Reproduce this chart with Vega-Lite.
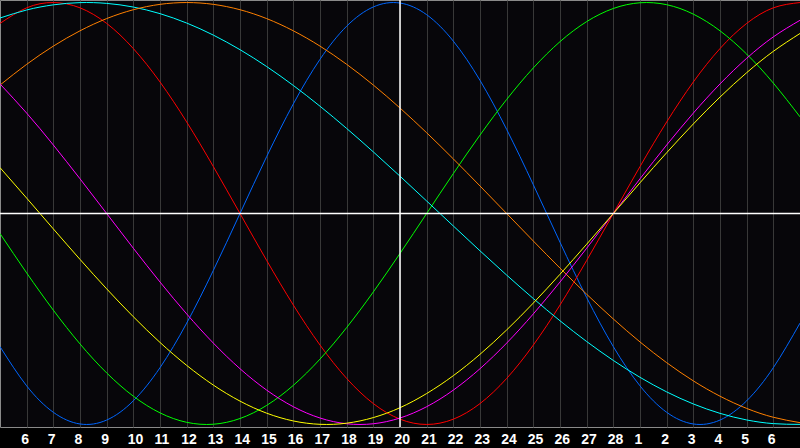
{
  "$schema": "https://vega.github.io/schema/vega-lite/v6.json",
  "width": 800,
  "height": 427,
  "autosize": {"type": "none"},
  "padding": {"left": 0, "top": 0, "right": 0, "bottom": 21},
  "background": "#000000",
  "config": {
    "view": {"fill": "#07060a", "stroke": "#8a8a8a", "strokeWidth": 1},
    "axis": {"labelOverlap": false, "labelSeparation": 0},
    "axisX": {"labelOverlap": false}
  },
  "datasets": {
    "bio": [
      {"u":0,"c":"Physical","v":-0.6311},{"u":1,"c":"Physical","v":-0.8170},{"u":2,"c":"Physical","v":-0.9423},{"u":3,"c":"Physical","v":-0.9977},{"u":4,"c":"Physical","v":-0.9791},{"u":5,"c":"Physical","v":-0.8879},{"u":6,"c":"Physical","v":-0.7308},{"u":7,"c":"Physical","v":-0.5196},{"u":8,"c":"Physical","v":-0.2698},{"u":9,"c":"Physical","v":0},{"u":10,"c":"Physical","v":0.2698},{"u":11,"c":"Physical","v":0.5196},{"u":12,"c":"Physical","v":0.7308},{"u":13,"c":"Physical","v":0.8879},{"u":14,"c":"Physical","v":0.9791},{"u":15,"c":"Physical","v":0.9977},{"u":16,"c":"Physical","v":0.9423},{"u":17,"c":"Physical","v":0.8170},{"u":18,"c":"Physical","v":0.6311},{"u":19,"c":"Physical","v":0.3984},{"u":20,"c":"Physical","v":0.1362},{"u":21,"c":"Physical","v":-0.1362},{"u":22,"c":"Physical","v":-0.3984},{"u":23,"c":"Physical","v":-0.6311},{"u":24,"c":"Physical","v":-0.8170},{"u":25,"c":"Physical","v":-0.9423},{"u":26,"c":"Physical","v":-0.9977},{"u":27,"c":"Physical","v":-0.9791},{"u":28,"c":"Physical","v":-0.8879},{"u":29,"c":"Physical","v":-0.7308},{"u":30,"c":"Physical","v":-0.5196},
      {"u":0,"c":"Emotional","v":0.9010},{"u":1,"c":"Emotional","v":0.9749},{"u":2,"c":"Emotional","v":1},{"u":3,"c":"Emotional","v":0.9749},{"u":4,"c":"Emotional","v":0.9010},{"u":5,"c":"Emotional","v":0.7818},{"u":6,"c":"Emotional","v":0.6235},{"u":7,"c":"Emotional","v":0.4339},{"u":8,"c":"Emotional","v":0.2225},{"u":9,"c":"Emotional","v":0},{"u":10,"c":"Emotional","v":-0.2225},{"u":11,"c":"Emotional","v":-0.4339},{"u":12,"c":"Emotional","v":-0.6235},{"u":13,"c":"Emotional","v":-0.7818},{"u":14,"c":"Emotional","v":-0.9010},{"u":15,"c":"Emotional","v":-0.9749},{"u":16,"c":"Emotional","v":-1},{"u":17,"c":"Emotional","v":-0.9749},{"u":18,"c":"Emotional","v":-0.9010},{"u":19,"c":"Emotional","v":-0.7818},{"u":20,"c":"Emotional","v":-0.6235},{"u":21,"c":"Emotional","v":-0.4339},{"u":22,"c":"Emotional","v":-0.2225},{"u":23,"c":"Emotional","v":0},{"u":24,"c":"Emotional","v":0.2225},{"u":25,"c":"Emotional","v":0.4339},{"u":26,"c":"Emotional","v":0.6235},{"u":27,"c":"Emotional","v":0.7818},{"u":28,"c":"Emotional","v":0.9010},{"u":29,"c":"Emotional","v":0.9749},{"u":30,"c":"Emotional","v":1},
      {"u":0,"c":"Intellectual","v":-0.0951},{"u":1,"c":"Intellectual","v":-0.2817},{"u":2,"c":"Intellectual","v":-0.4582},{"u":3,"c":"Intellectual","v":-0.6182},{"u":4,"c":"Intellectual","v":-0.7557},{"u":5,"c":"Intellectual","v":-0.8660},{"u":6,"c":"Intellectual","v":-0.9450},{"u":7,"c":"Intellectual","v":-0.9898},{"u":8,"c":"Intellectual","v":-0.9989},{"u":9,"c":"Intellectual","v":-0.9718},{"u":10,"c":"Intellectual","v":-0.9096},{"u":11,"c":"Intellectual","v":-0.8146},{"u":12,"c":"Intellectual","v":-0.6901},{"u":13,"c":"Intellectual","v":-0.5406},{"u":14,"c":"Intellectual","v":-0.3717},{"u":15,"c":"Intellectual","v":-0.1893},{"u":16,"c":"Intellectual","v":0},{"u":17,"c":"Intellectual","v":0.1893},{"u":18,"c":"Intellectual","v":0.3717},{"u":19,"c":"Intellectual","v":0.5406},{"u":20,"c":"Intellectual","v":0.6901},{"u":21,"c":"Intellectual","v":0.8146},{"u":22,"c":"Intellectual","v":0.9096},{"u":23,"c":"Intellectual","v":0.9718},{"u":24,"c":"Intellectual","v":0.9989},{"u":25,"c":"Intellectual","v":0.9898},{"u":26,"c":"Intellectual","v":0.9450},{"u":27,"c":"Intellectual","v":0.8660},{"u":28,"c":"Intellectual","v":0.7557},{"u":29,"c":"Intellectual","v":0.6182},{"u":30,"c":"Intellectual","v":0.4582},
      {"u":0,"c":"Spiritual","v":0.9267},{"u":1,"c":"Spiritual","v":0.9647},{"u":2,"c":"Spiritual","v":0.9890},{"u":3,"c":"Spiritual","v":0.9996},{"u":4,"c":"Spiritual","v":0.9960},{"u":5,"c":"Spiritual","v":0.9786},{"u":6,"c":"Spiritual","v":0.9473},{"u":7,"c":"Spiritual","v":0.9028},{"u":8,"c":"Spiritual","v":0.8456},{"u":9,"c":"Spiritual","v":0.7765},{"u":10,"c":"Spiritual","v":0.6966},{"u":11,"c":"Spiritual","v":0.6068},{"u":12,"c":"Spiritual","v":0.5085},{"u":13,"c":"Spiritual","v":0.4031},{"u":14,"c":"Spiritual","v":0.2920},{"u":15,"c":"Spiritual","v":0.1769},{"u":16,"c":"Spiritual","v":0.0592},{"u":17,"c":"Spiritual","v":-0.0592},{"u":18,"c":"Spiritual","v":-0.1769},{"u":19,"c":"Spiritual","v":-0.2920},{"u":20,"c":"Spiritual","v":-0.4031},{"u":21,"c":"Spiritual","v":-0.5085},{"u":22,"c":"Spiritual","v":-0.6068},{"u":23,"c":"Spiritual","v":-0.6966},{"u":24,"c":"Spiritual","v":-0.7765},{"u":25,"c":"Spiritual","v":-0.8456},{"u":26,"c":"Spiritual","v":-0.9028},{"u":27,"c":"Spiritual","v":-0.9473},{"u":28,"c":"Spiritual","v":-0.9786},{"u":29,"c":"Spiritual","v":-0.9960},{"u":30,"c":"Spiritual","v":-0.9996},
      {"u":0,"c":"Awareness","v":0.6088},{"u":1,"c":"Awareness","v":0.7071},{"u":2,"c":"Awareness","v":0.7934},{"u":3,"c":"Awareness","v":0.8660},{"u":4,"c":"Awareness","v":0.9239},{"u":5,"c":"Awareness","v":0.9659},{"u":6,"c":"Awareness","v":0.9914},{"u":7,"c":"Awareness","v":1},{"u":8,"c":"Awareness","v":0.9914},{"u":9,"c":"Awareness","v":0.9659},{"u":10,"c":"Awareness","v":0.9239},{"u":11,"c":"Awareness","v":0.8660},{"u":12,"c":"Awareness","v":0.7934},{"u":13,"c":"Awareness","v":0.7071},{"u":14,"c":"Awareness","v":0.6088},{"u":15,"c":"Awareness","v":0.5},{"u":16,"c":"Awareness","v":0.3827},{"u":17,"c":"Awareness","v":0.2588},{"u":18,"c":"Awareness","v":0.1305},{"u":19,"c":"Awareness","v":0},{"u":20,"c":"Awareness","v":-0.1305},{"u":21,"c":"Awareness","v":-0.2588},{"u":22,"c":"Awareness","v":-0.3827},{"u":23,"c":"Awareness","v":-0.5},{"u":24,"c":"Awareness","v":-0.6088},{"u":25,"c":"Awareness","v":-0.7071},{"u":26,"c":"Awareness","v":-0.7934},{"u":27,"c":"Awareness","v":-0.8660},{"u":28,"c":"Awareness","v":-0.9239},{"u":29,"c":"Awareness","v":-0.9659},{"u":30,"c":"Awareness","v":-0.9914},
      {"u":0,"c":"Intuitive","v":0.6142},{"u":1,"c":"Intuitive","v":0.4759},{"u":2,"c":"Intuitive","v":0.3247},{"u":3,"c":"Intuitive","v":0.1646},{"u":4,"c":"Intuitive","v":0},{"u":5,"c":"Intuitive","v":-0.1646},{"u":6,"c":"Intuitive","v":-0.3247},{"u":7,"c":"Intuitive","v":-0.4759},{"u":8,"c":"Intuitive","v":-0.6142},{"u":9,"c":"Intuitive","v":-0.7357},{"u":10,"c":"Intuitive","v":-0.8372},{"u":11,"c":"Intuitive","v":-0.9158},{"u":12,"c":"Intuitive","v":-0.9694},{"u":13,"c":"Intuitive","v":-0.9966},{"u":14,"c":"Intuitive","v":-0.9966},{"u":15,"c":"Intuitive","v":-0.9694},{"u":16,"c":"Intuitive","v":-0.9158},{"u":17,"c":"Intuitive","v":-0.8372},{"u":18,"c":"Intuitive","v":-0.7357},{"u":19,"c":"Intuitive","v":-0.6142},{"u":20,"c":"Intuitive","v":-0.4759},{"u":21,"c":"Intuitive","v":-0.3247},{"u":22,"c":"Intuitive","v":-0.1646},{"u":23,"c":"Intuitive","v":0},{"u":24,"c":"Intuitive","v":0.1646},{"u":25,"c":"Intuitive","v":0.3247},{"u":26,"c":"Intuitive","v":0.4759},{"u":27,"c":"Intuitive","v":0.6142},{"u":28,"c":"Intuitive","v":0.7357},{"u":29,"c":"Intuitive","v":0.8372},{"u":30,"c":"Intuitive","v":0.9158},
      {"u":0,"c":"Aesthetic","v":0.2174},{"u":1,"c":"Aesthetic","v":0.0730},{"u":2,"c":"Aesthetic","v":-0.0730},{"u":3,"c":"Aesthetic","v":-0.2174},{"u":4,"c":"Aesthetic","v":-0.3572},{"u":5,"c":"Aesthetic","v":-0.4894},{"u":6,"c":"Aesthetic","v":-0.6112},{"u":7,"c":"Aesthetic","v":-0.7199},{"u":8,"c":"Aesthetic","v":-0.8133},{"u":9,"c":"Aesthetic","v":-0.8893},{"u":10,"c":"Aesthetic","v":-0.9465},{"u":11,"c":"Aesthetic","v":-0.9834},{"u":12,"c":"Aesthetic","v":-0.9993},{"u":13,"c":"Aesthetic","v":-0.9939},{"u":14,"c":"Aesthetic","v":-0.9674},{"u":15,"c":"Aesthetic","v":-0.9206},{"u":16,"c":"Aesthetic","v":-0.8533},{"u":17,"c":"Aesthetic","v":-0.7687},{"u":18,"c":"Aesthetic","v":-0.6674},{"u":19,"c":"Aesthetic","v":-0.5519},{"u":20,"c":"Aesthetic","v":-0.4244},{"u":21,"c":"Aesthetic","v":-0.2881},{"u":22,"c":"Aesthetic","v":-0.1456},{"u":23,"c":"Aesthetic","v":0},{"u":24,"c":"Aesthetic","v":0.1456},{"u":25,"c":"Aesthetic","v":0.2881},{"u":26,"c":"Aesthetic","v":0.4244},{"u":27,"c":"Aesthetic","v":0.5519},{"u":28,"c":"Aesthetic","v":0.6674},{"u":29,"c":"Aesthetic","v":0.7687},{"u":30,"c":"Aesthetic","v":0.8533}
    ],
    "refs": [{"zero": 0, "today": 15}]
  },
  "layer": [
    {
      "data": {"name": "bio"},
      "mark": {"type": "line", "interpolate": "natural", "strokeWidth": 1, "clip": true},
      "encoding": {
        "x": {
          "field": "u", "type": "quantitative",
          "scale": {"domain": [0, 30], "nice": false, "zero": false},
          "axis": {
            "title": null,
            "values": [1,2,3,4,5,6,7,8,9,10,11,12,13,14,15,16,17,18,19,20,21,22,23,24,25,26,27,28,29],
            "labelExpr": "datum.value <= 23 ? datum.value + 5 : datum.value - 23",
            "grid": true, "gridColor": "#383838", "gridWidth": 1, "gridOpacity": 1,
            "domain": false, "ticks": false,
            "labelColor": "#ffffff", "labelFont": "Liberation Sans", "labelFontWeight": "bold",
            "labelFontSize": 14, "labelAlign": "left", "labelOffset": -6,
            "labelBaseline": "alphabetic", "labelPadding": 16, "labelOverlap": false, "labelSeparation": 0
          }
        },
        "y": {
          "field": "v", "type": "quantitative",
          "scale": {"domain": [-1.012, 1.012], "nice": false, "zero": false},
          "axis": null
        },
        "color": {
          "field": "c", "type": "nominal",
          "scale": {
            "domain": ["Physical", "Emotional", "Intellectual", "Spiritual", "Awareness", "Intuitive", "Aesthetic"],
            "range": ["#0066ff", "#ff0000", "#00ff00", "#00ffff", "#ff8000", "#ff00ff", "#ffff00"]
          },
          "legend": null
        }
      }
    },
    {
      "data": {"name": "refs"},
      "mark": {"type": "rule", "color": "#ffffff", "strokeWidth": 1.5},
      "encoding": {"y": {"field": "zero", "type": "quantitative"}}
    },
    {
      "data": {"name": "refs"},
      "mark": {"type": "rule", "color": "#ffffff", "strokeWidth": 1.5},
      "encoding": {
        "x": {
          "field": "today", "type": "quantitative",
          "axis": {
            "title": null,
            "values": [1,2,3,4,5,6,7,8,9,10,11,12,13,14,15,16,17,18,19,20,21,22,23,24,25,26,27,28,29],
            "labelExpr": "datum.value <= 23 ? datum.value + 5 : datum.value - 23",
            "grid": true, "gridColor": "#383838", "gridWidth": 1, "gridOpacity": 1,
            "domain": false, "ticks": false,
            "labelColor": "#ffffff", "labelFont": "Liberation Sans", "labelFontWeight": "bold",
            "labelFontSize": 14, "labelAlign": "left", "labelOffset": -6,
            "labelBaseline": "alphabetic", "labelPadding": 16, "labelOverlap": false, "labelSeparation": 0
          }
        }
      }
    }
  ]
}
